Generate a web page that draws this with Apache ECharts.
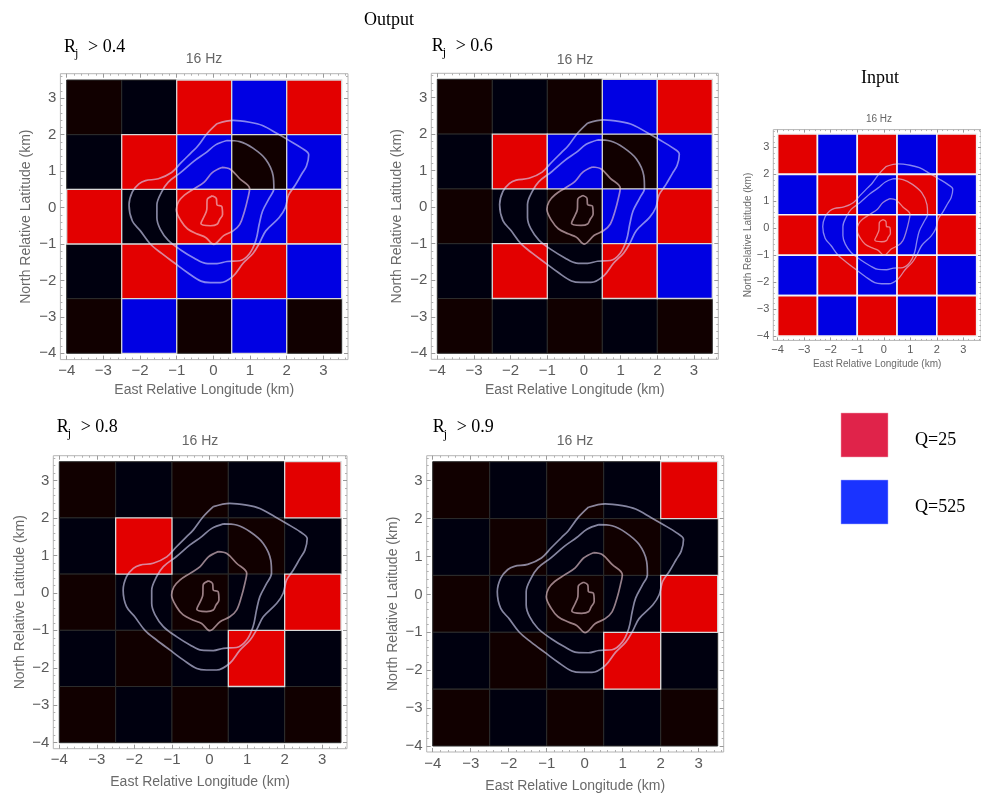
<!DOCTYPE html>
<html><head><meta charset="utf-8">
<script src="https://cdn.jsdelivr.net/npm/echarts@6/dist/echarts.min.js"></script>
<style>html,body{margin:0;padding:0;background:#fff}#c{width:981px;height:796px}</style>
</head><body><div id="c"></div>
<script>
// ---------------- data ----------------
const xEdges = [-4, -2.5, -1, 0.5, 2, 3.5];          // cell edges, west -> east (km)
const yEdges = [3.5, 2, 0.5, -1, -2.5, -4];          // cell edges, north -> south (km)
// input Q per cell, rows north -> south, columns west -> east
const inputQ = [
  [25, 525, 25, 525, 25],
  [525, 25, 525, 25, 525],
  [25, 525, 25, 525, 25],
  [525, 25, 525, 25, 525],
  [25, 525, 25, 525, 25]
];
// cells recovered in output (1 = recovered / shown in colour)
const passRj04 = [
  [0, 0, 1, 1, 1],
  [0, 1, 1, 0, 1],
  [1, 0, 1, 1, 1],
  [0, 1, 1, 1, 1],
  [0, 1, 0, 1, 0]
];
const passRj06 = [
  [0, 0, 0, 1, 1],
  [0, 1, 1, 0, 1],
  [0, 0, 0, 1, 1],
  [0, 1, 0, 1, 1],
  [0, 0, 0, 0, 0]
];
const passRj08 = [
  [0, 0, 0, 0, 1],
  [0, 1, 0, 0, 0],
  [0, 0, 0, 0, 1],
  [0, 0, 0, 1, 0],
  [0, 0, 0, 0, 0]
];
const passRj09 = [
  [0, 0, 0, 0, 1],
  [0, 0, 0, 0, 0],
  [0, 0, 0, 0, 1],
  [0, 0, 0, 1, 0],
  [0, 0, 0, 0, 0]
];
const passAll = [
  [1, 1, 1, 1, 1],
  [1, 1, 1, 1, 1],
  [1, 1, 1, 1, 1],
  [1, 1, 1, 1, 1],
  [1, 1, 1, 1, 1]
];
const thresholds = ['0.4', '0.6', '0.8', '0.9'];
const majorTicks = [-4, -3, -2, -1, 0, 1, 2, 3];
const frequencyLabel = '16 Hz';
const xName = 'East Relative Longitude (km)';
const yName = 'North Relative Latitude (km)';
const legendItems = ['Q=25', 'Q=525'];

// contour lines (km)
const contour1 = [[-0.03,0.32],[0.08,0.25],[0.10,0.07],[0.23,0.03],[0.25,-0.19],[0.17,-0.33],[0.10,-0.46],[-0.08,-0.50],[-0.34,-0.44],[-0.25,-0.24],[-0.18,-0.06],[-0.17,0.21],[-0.03,0.32]];
const contour2 = [[0.23,1.10],[0.46,1.05],[0.72,0.79],[0.99,0.52],[0.94,0.25],[0.85,-0.10],[0.72,-0.46],[0.54,-0.64],[0.28,-0.77],[0.01,-1.01],[-0.21,-0.82],[-0.43,-0.73],[-0.70,-0.59],[-0.88,-0.37],[-1.01,-0.06],[-0.95,0.16],[-0.79,0.34],[-0.52,0.52],[-0.25,0.70],[-0.03,0.96],[0.23,1.10]];
const contour3 = [[0.37,1.84],[0.72,1.81],[1.08,1.63],[1.43,1.32],[1.63,0.87],[1.65,0.52],[1.52,0.25],[1.34,-0.10],[1.25,-0.46],[1.16,-0.90],[0.99,-1.26],[0.72,-1.46],[0.37,-1.48],[0.10,-1.54],[-0.21,-1.53],[-0.52,-1.39],[-0.88,-1.17],[-1.23,-0.90],[-1.45,-0.59],[-1.54,-0.28],[-1.54,0.07],[-1.41,0.43],[-1.23,0.70],[-0.88,0.97],[-0.52,1.28],[-0.21,1.50],[0.06,1.72],[0.37,1.84]];
const contour4 = [[0.10,2.30],[0.54,2.39],[0.99,2.34],[1.34,2.25],[1.74,2.03],[2.05,1.85],[2.41,1.63],[2.60,1.45],[2.54,1.14],[2.41,0.92],[2.23,0.61],[2.05,0.34],[1.96,-0.01],[1.79,-0.28],[1.43,-0.64],[1.25,-0.99],[1.08,-1.26],[0.81,-1.53],[0.54,-1.88],[0.19,-2.06],[-0.08,-2.06],[-0.34,-2.02],[-0.70,-1.79],[-1.05,-1.53],[-1.41,-1.26],[-1.72,-1.00],[-1.99,-0.64],[-2.21,-0.37],[-2.30,0.07],[-2.21,0.43],[-2.03,0.65],[-1.85,0.74],[-1.50,0.79],[-1.14,0.96],[-0.88,1.23],[-0.61,1.50],[-0.43,1.68],[-0.17,2.03],[0.10,2.30]];

// ---------------- layout / style ----------------
const serif = '"Liberation Serif", "DejaVu Serif", serif';
const sans = '"Liberation Sans", Arial, sans-serif';
const panels = [
  {pass: passRj04, label: thresholds[0], dl: 66.7, dt: 80, dw: 275, dh: 273.3, pad: 6.3, big: true, rx: 64, ry: 56, tx: 204, ty: 59, yGap: 27, xGap: 24},
  {pass: passRj06, label: thresholds[1], dl: 437.3, dt: 79.3, dw: 275, dh: 274, pad: 6, big: true, rx: 431.7, ry: 55, tx: 575, ty: 60, yGap: 27, xGap: 24},
  {pass: passRj08, label: thresholds[2], dl: 59.3, dt: 461.7, dw: 281.7, dh: 281, pad: 6, big: true, rx: 56.7, ry: 436, tx: 200, ty: 441, yGap: 26, xGap: 26},
  {pass: passRj09, label: thresholds[3], dl: 432.7, dt: 461.7, dw: 285, dh: 284.3, pad: 6, big: true, rx: 432.7, ry: 436.7, tx: 575, ty: 441, yGap: 27, xGap: 27},
  {pass: passAll, label: null, dl: 777.7, dt: 134, dw: 201.8, dh: 202, pad: 4.4, big: false, tx: 879, ty: 119, yGap: 19, xGap: 19}
];
const litColor = {25: '#e30000', 525: '#0000e3'};
const darkColor = {25: '#110000', 525: '#00000f'};
const contourStyles = [
  {data: contour1, color: 'rgba(240,205,215,0.62)'},
  {data: contour2, color: 'rgba(240,205,215,0.62)'},
  {data: contour3, color: 'rgba(215,215,250,0.62)'},
  {data: contour4, color: 'rgba(215,215,250,0.62)'}
];
const fmt = v => String(Math.round(v * 10) / 10).replace('-', '\u2212');

function minorTicksFor(min, max) {
  const out = [];
  for (let k = Math.ceil(min * 5); k <= Math.floor(max * 5); k++) {
    if (k % 5 !== 0) out.push(k / 5);
  }
  return out;
}

const grids = [], xAxes = [], yAxes = [], series = [], graphics = [];

panels.forEach((p, gi) => {
  grids.push({left: p.dl - p.pad, top: p.dt - p.pad, width: p.dw + 2 * p.pad, height: p.dh + 2 * p.pad,
    show: true, borderColor: '#b5b5b5', borderWidth: 1, backgroundColor: 'transparent'});
  const xmin = -4 - p.pad * 7.5 / p.dw, xmax = 3.5 + p.pad * 7.5 / p.dw;
  const ymin = -4 - p.pad * 7.5 / p.dh, ymax = 3.5 + p.pad * 7.5 / p.dh;
  const lblFs = p.big ? 15 : 11, nameFs = p.big ? 14 : 10;
  const majLen = p.big ? 4 : 3, minLen = p.big ? 2 : 1.5;
  const base = {type: 'value', gridIndex: gi, axisLine: {show: false, onZero: false}, splitLine: {show: false}};
  const mkAxes = (min, max, isX) => {
    const minor = minorTicksFor(min, max);
    const sides = isX ? ['bottom', 'top'] : ['left', 'right'];
    const arr = [];
    sides.forEach((side, si) => {
      const major = Object.assign({}, base, {min, max, position: side,
        axisTick: {show: true, inside: true, length: majLen, customValues: majorTicks, lineStyle: {color: '#9a9a9a', width: 1}},
        axisLabel: si === 0 ? {show: true, customValues: majorTicks, formatter: fmt, fontSize: lblFs, color: '#5a5a5a', fontFamily: sans, margin: isX ? 4 : 4} : {show: false}
      });
      if (si === 0) {
        Object.assign(major, {name: isX ? xName : yName, nameLocation: 'middle', nameGap: isX ? p.xGap : p.yGap,
          nameTextStyle: {fontSize: nameFs, color: '#6a6a6a', fontFamily: sans}});
      }
      arr.push(major);
      arr.push(Object.assign({}, base, {min, max, position: side,
        axisTick: {show: true, inside: true, length: minLen, customValues: minor, lineStyle: {color: '#b0b0b0', width: 1}},
        axisLabel: {show: false}}));
    });
    return arr;
  };
  const xStart = xAxes.length, yStart = yAxes.length;
  xAxes.push(...mkAxes(xmin, xmax, true));
  yAxes.push(...mkAxes(ymin, ymax, false));

  // cells
  const cells = [];
  for (let r = 0; r < 5; r++) for (let c = 0; c < 5; c++) {
    cells.push([xEdges[c], xEdges[c + 1], yEdges[r + 1], yEdges[r], inputQ[r][c], p.pass[r][c]]);
  }
  cells.sort((a, b) => a[5] - b[5]);
  const isInput = !p.big || p.label === null;
  series.push({
    type: 'custom', xAxisIndex: xStart, yAxisIndex: yStart, silent: true, clip: true, z: 2,
    encode: {x: [0, 1], y: [2, 3]},
    data: cells,
    renderItem: (params, api) => {
      const a = api.coord([api.value(0), api.value(3)]);
      const b = api.coord([api.value(1), api.value(2)]);
      const q = api.value(4), lit = api.value(5);
      return {type: 'rect', shape: {x: a[0], y: a[1], width: b[0] - a[0], height: b[1] - a[1]},
        style: {fill: lit ? litColor[q] : darkColor[q],
          stroke: lit ? (p.label === null ? '#f2f2f2' : '#d8d8d8') : '#2c2c2c',
          lineWidth: lit ? (p.label === null ? 1.6 : 1.3) : 1}};
    }
  });
  // contours
  contourStyles.forEach(cs => {
    series.push({type: 'line', xAxisIndex: xStart, yAxisIndex: yStart, data: cs.data, showSymbol: false,
      smooth: 0.35, silent: true, z: 5, clip: true,
      lineStyle: {color: cs.color, width: p.big ? 1.7 : 1.3}});
  });

  // frequency title
  graphics.push({type: 'text', left: null, x: p.tx, y: p.ty, style: {text: frequencyLabel, fill: '#666',
    font: `${p.big ? 14 : 10}px ${sans}`, align: 'center', verticalAlign: 'middle'}});
  // threshold label R_j > x
  if (p.label !== null) {
    graphics.push({type: 'text', x: p.rx, y: p.ry, style: {text: 'R', fill: '#000', font: `18px ${serif}`, verticalAlign: 'bottom'}});
    graphics.push({type: 'text', x: p.rx + 11, y: p.ry + 4, style: {text: 'j', fill: '#000', font: `12px ${serif}`, verticalAlign: 'bottom'}});
    graphics.push({type: 'text', x: p.rx + 24, y: p.ry, style: {text: '> 0.' + p.label.split('.')[1], fill: '#000', font: `18px ${serif}`, verticalAlign: 'bottom'}});
  }
});

// headings
graphics.push({type: 'text', x: 389, y: 20, style: {text: 'Output', fill: '#000', font: `18px ${serif}`, align: 'center', verticalAlign: 'middle'}});
graphics.push({type: 'text', x: 880, y: 78, style: {text: 'Input', fill: '#000', font: `18px ${serif}`, align: 'center', verticalAlign: 'middle'}});
// legend
const legendColors = ['#e0234a', '#1a33ff'];
legendItems.forEach((name, i) => {
  const top = i === 0 ? 413 : 480;
  graphics.push({type: 'rect', x: 841, y: top, shape: {width: 47, height: 44}, style: {fill: legendColors[i], stroke: i === 0 ? '#f0a0b0' : '#a0a8ff', lineWidth: 0.5}});
  graphics.push({type: 'text', x: 915, y: top + 27, style: {text: name, fill: '#000', font: `18px ${serif}`, verticalAlign: 'middle'}});
});

const chart = echarts.init(document.getElementById('c'), null, {renderer: 'canvas'});
chart.setOption({
  animation: false,
  backgroundColor: '#fff',
  grid: grids,
  xAxis: xAxes,
  yAxis: yAxes,
  series: series,
  graphic: {elements: graphics}
});
</script>
</body></html>
